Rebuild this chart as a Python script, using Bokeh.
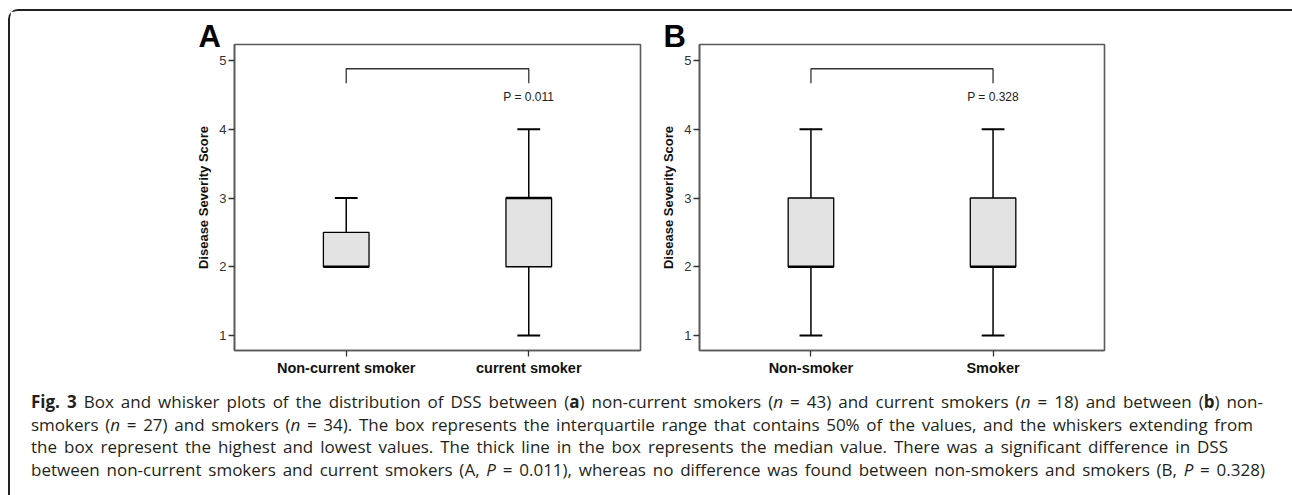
from bokeh.plotting import figure
from bokeh.models import ColumnDataSource, FixedTicker, Label, Div
from bokeh.layouts import row, column
from bokeh.embed import file_html
from bokeh.resources import INLINE

# ---------------- data ----------------
groups_a = ["Non-current smoker", "current smoker"]
min_a = [2, 1]
q1_a = [2, 2]
median_a = [2, 3]
q3_a = [2.5, 3]
max_a = [3, 4]
p_text_a = "P = 0.011"

groups_b = ["Non-smoker", "Smoker"]
min_b = [1, 1]
q1_b = [2, 2]
median_b = [2, 2]
q3_b = [3, 3]
max_b = [4, 4]
p_text_b = "P = 0.328"

y_ticks = [1, 2, 3, 4, 5]
y_label = "Disease Severity Score"

caption_lines = [
    "<b>Fig. 3</b> Box and whisker plots of the distribution of DSS between (<b>a</b>) non-current smokers (<i>n</i> = 43) and current smokers (<i>n</i> = 18) and between (<b>b</b>) non-",
    "smokers (<i>n</i> = 27) and smokers (<i>n</i> = 34). The box represents the interquartile range that contains 50% of the values, and the whiskers extending from",
    "the box represent the highest and lowest values. The thick line in the box represents the median value. There was a significant difference in DSS",
    "between non-current smokers and current smokers (A, <i>P</i> = 0.011), whereas no difference was found between non-smokers and smokers (B, <i>P</i> = 0.328)",
]
caption_widths = [1232, 1222, 1197, 1234]

FONT = "Liberation Sans"
FRAME_COL = "#5a5a5a"


def make_panel(letter, groups, mins, q1s, meds, q3s, maxs, ptext, width, mbl, mbr):
    xs = list(range(1, len(groups) + 1))
    src = ColumnDataSource(dict(x=xs, mn=mins, q1=q1s, med=meds, q3=q3s, mx=maxs))
    p = figure(width=width, height=373, x_range=(0.388, 2.612), y_range=(0.782, 5.233),
               output_backend="svg", toolbar_location=None,
               min_border_left=mbl, min_border_right=mbr, min_border_top=33, min_border_bottom=34)
    p.xgrid.visible = False
    p.ygrid.visible = False
    p.background_fill_color = "white"
    p.border_fill_color = "white"
    p.outline_line_color = FRAME_COL
    p.outline_line_width = 1.6

    # panel letter as the figure title, pulled left of the frame
    p.title.text = letter
    p.title.align = "left"
    p.title.offset = -36
    p.title.standoff = -18
    p.title.text_font = FONT
    p.title.text_font_size = "31px"
    p.title.text_font_style = "bold"
    p.title.text_color = "black"

    box_w = 0.25
    cap_w = 0.125
    src.data["cl"] = [x - cap_w / 2 for x in xs]
    src.data["cr"] = [x + cap_w / 2 for x in xs]
    src.data["bl"] = [x - box_w / 2 for x in xs]
    src.data["br"] = [x + box_w / 2 for x in xs]
    # whiskers
    p.segment(x0="x", y0="q3", x1="x", y1="mx", source=src, line_color="black", line_width=1.5)
    p.segment(x0="x", y0="q1", x1="x", y1="mn", source=src, line_color="black", line_width=1.5)
    p.segment(x0="cl", y0="mx", x1="cr", y1="mx", source=src, line_color="black", line_width=2)
    p.segment(x0="cl", y0="mn", x1="cr", y1="mn", source=src, line_color="black", line_width=2)
    # boxes
    p.vbar(x="x", width=box_w, bottom="q1", top="q3", source=src,
           fill_color="#e3e3e3", line_color="black", line_width=1.3)
    # median
    p.segment(x0="bl", y0="med", x1="br", y1="med", source=src, line_color="black", line_width=2.6)

    # significance bracket
    b_top, b_bot = 4.88, 4.67
    p.line(x=[xs[0], xs[0], xs[1], xs[1]], y=[b_bot, b_top, b_top, b_bot],
           line_color="#333333", line_width=1.3)
    p.add_layout(Label(x=xs[1], y=4.466, text=ptext, text_align="center", text_baseline="middle",
                       text_font=FONT, text_font_size="12px", text_color="#222222"))

    # axes
    p.yaxis.ticker = FixedTicker(ticks=y_ticks)
    p.yaxis.axis_label = y_label
    p.yaxis.axis_label_text_font = FONT
    p.yaxis.axis_label_text_font_size = "13px"
    p.yaxis.axis_label_text_font_style = "bold"
    p.yaxis.axis_label_text_color = "#111111"
    p.yaxis.axis_label_standoff = 5
    p.yaxis.major_label_text_font = FONT
    p.yaxis.major_label_text_font_size = "13px"
    p.yaxis.major_label_text_color = "#333333"
    p.yaxis.major_label_standoff = 2
    p.yaxis.major_tick_out = 6
    p.yaxis.major_tick_in = 0
    p.yaxis.minor_tick_line_color = None

    p.xaxis.ticker = FixedTicker(ticks=xs)
    p.xaxis.major_label_overrides = {x: g for x, g in zip(xs, groups)}
    p.xaxis.major_label_text_font = FONT
    p.xaxis.major_label_text_font_size = "14.5px"
    p.xaxis.major_label_text_font_style = "bold"
    p.xaxis.major_label_text_color = "#111111"
    p.xaxis.major_label_standoff = 3
    p.xaxis.major_tick_out = 6
    p.xaxis.major_tick_in = 0
    p.xaxis.minor_tick_line_color = None

    for ax in (p.xaxis[0], p.yaxis[0]):
        ax.axis_line_color = FRAME_COL
        ax.axis_line_width = 1.6
        ax.major_tick_line_color = "#333333"
        ax.major_tick_line_width = 1.3
    return p


pa = make_panel("A", groups_a, min_a, q1_a, median_a, q3_a, max_a, p_text_a, 648, 224, 18)
pb = make_panel("B", groups_b, min_b, q1_b, median_b, q3_b, max_b, p_text_b, 632, 40, 186)

line_html = ""
for t, w in zip(caption_lines, caption_widths):
    line_html += (f'<div style="width:{w}px;white-space:nowrap;text-align:justify;'
                  f'text-align-last:justify;height:22.5px;line-height:22.5px;">{t}</div>')
caption = Div(text=f'<div style="font-family:\'Open Sans\';font-size:17px;color:#231f20;'
                   f'padding-left:16px;padding-top:2px;">{line_html}</div>',
              width=1280, height=110)

layout = column(row(pa, pb), caption,
                styles={"position": "absolute", "left": "8px", "top": "9px",
                        "border-top": "2px solid #222222", "border-left": "2px solid #222222",
                        "border-top-left-radius": "10px"})

open("out.html", "w").write(file_html(layout, INLINE))
